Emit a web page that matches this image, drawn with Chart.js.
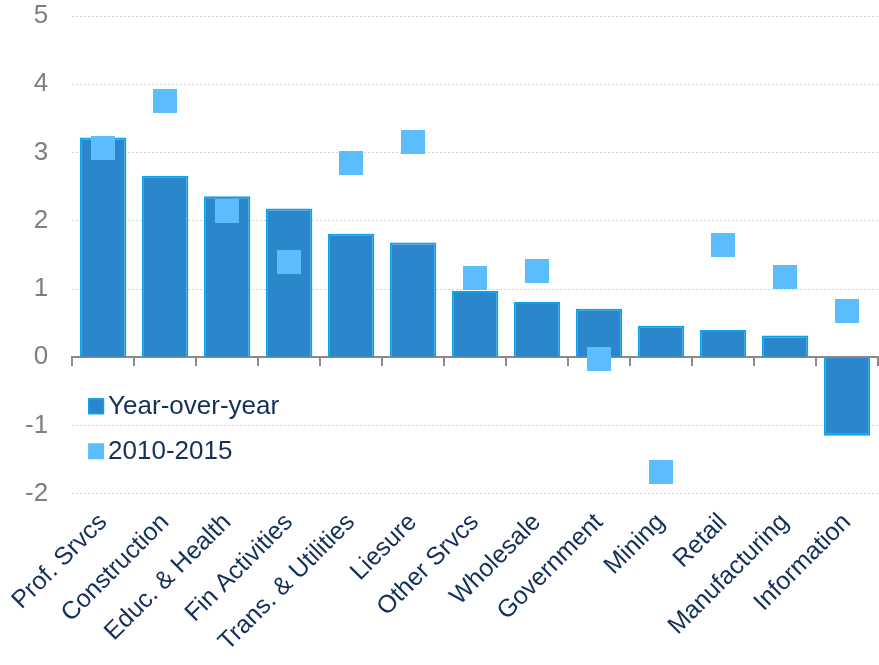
<!DOCTYPE html>
<html>
<head>
<meta charset="utf-8">
<script src="https://cdn.jsdelivr.net/npm/chart.js@4/dist/chart.umd.min.js"></script>
<style>
  html, body { margin: 0; padding: 0; background: #fff; }
  #wrap { width: 879px; height: 665px; position: relative; }
</style>
</head>
<body>
<div id="wrap"><canvas id="chart"></canvas></div>
<script>
const sectors = ["Prof. Srvcs", "Construction", "Educ. & Health", "Fin Activities", "Trans. & Utilities", "Liesure",
  "Other Srvcs", "Wholesale", "Government", "Mining", "Retail", "Manufacturing", "Information"];
const yearOverYear = [3.22, 2.66, 2.36, 2.18, 1.81, 1.68, 0.97, 0.81, 0.71, 0.46, 0.40, 0.32, -1.15];
const avg2010to2015 = [3.06, 3.75, 2.15, 1.40, 2.85, 3.16, 1.16, 1.26, -0.03, -1.68, 1.65, 1.18, 0.68];
const yTicks = [-2, -1, 0, 1, 2, 3, 4, 5];

const BAR_FILL = "#2a87cb";
const BAR_EDGE = "#0aa3ea";
const DOT_FILL = "#5bbdfd";
const NAVY = "#14305a";
const FONT = "'Liberation Sans', Arial, sans-serif";

// square marker as an image so the point radius doesn't push the layout in
function squareMarker(size, color) {
  const c = document.createElement("canvas");
  c.width = c.height = size;
  const g = c.getContext("2d");
  g.fillStyle = color;
  g.fillRect(0, 0, size, size);
  return c;
}
const dotImg = squareMarker(24, DOT_FILL);

// legend sits inside the plot, under the zero line
const insideLegend = {
  id: "insideLegend",
  afterDraw(chart) {
    const { ctx, chartArea, scales } = chart;
    const zero = scales.y.getPixelForValue(0);
    const x = chartArea.left + 16;
    const rows = [
      { label: chart.data.datasets[1].label, fill: BAR_FILL, edge: BAR_EDGE, y: zero + 49 },
      { label: chart.data.datasets[0].label, fill: DOT_FILL, edge: null, y: zero + 94 },
    ];
    ctx.save();
    ctx.font = `26px ${FONT}`;
    ctx.textBaseline = "middle";
    rows.forEach(r => {
      ctx.fillStyle = r.fill;
      ctx.fillRect(x, r.y - 8, 16, 16);
      if (r.edge) {
        ctx.strokeStyle = r.edge;
        ctx.lineWidth = 1.5;
        ctx.strokeRect(x + 0.75, r.y - 7.25, 14.5, 14.5);
      }
      ctx.fillStyle = NAVY;
      ctx.fillText(r.label, x + 20, r.y + 1);
    });
    ctx.restore();
  },
};

new Chart(document.getElementById("chart"), {
  type: "bar",
  data: {
    labels: sectors,
    datasets: [
      {
        type: "line",
        label: "2010-2015",
        data: avg2010to2015,
        showLine: false,
        pointStyle: dotImg,
        pointRadius: 1,
        pointHoverRadius: 1,
        pointBorderWidth: 0,
        borderWidth: 0,
        order: 0,
      },
      {
        label: "Year-over-year",
        data: yearOverYear,
        backgroundColor: BAR_FILL,
        borderColor: BAR_EDGE,
        borderWidth: 2,
        barPercentage: 0.75,
        categoryPercentage: 1,
        order: 1,
      },
    ],
  },
  options: {
    responsive: true,
    maintainAspectRatio: false,
    animation: false,
    layout: { padding: { top: 16, left: 1, right: 0, bottom: 2 } },
    plugins: { legend: { display: false }, tooltip: { enabled: false } },
    scales: {
      x: {
        type: "category",
        offset: true,
        grid: { display: false },
        border: { display: false },
        ticks: {
          autoSkip: false,
          maxRotation: 45,
          minRotation: 45,
          padding: 6,
          color: NAVY,
          font: { family: FONT, size: 25 },
        },
        // rotated first label may hang off the left edge, as it does in print
        afterFit: axis => { axis.paddingLeft = 0; axis.paddingRight = 0; },
      },
      // zero line with the category tick marks hanging below it
      x2: {
        type: "category",
        labels: sectors,
        position: { y: 0 },
        offset: true,
        grid: { offset: true, drawOnChartArea: false, drawTicks: true, tickLength: 8, color: "#8a8a8a", lineWidth: 2 },
        border: { display: true, color: "#8a8a8a", width: 2 },
        ticks: { display: false },
      },
      y: {
        min: -2,
        max: 5,
        afterBuildTicks: axis => { axis.ticks = yTicks.map(v => ({ value: v })); },
        afterFit: axis => { axis.paddingTop = 0; axis.paddingBottom = 0; },
        grid: { color: "#d4d4d4", lineWidth: 1, drawTicks: false },
        border: { display: false, dash: [2, 2] },
        ticks: {
          padding: 24,
          color: "#7f7f7f",
          font: { family: FONT, size: 26 },
        },
      },
    },
  },
  plugins: [insideLegend],
});
</script>
</body>
</html>
